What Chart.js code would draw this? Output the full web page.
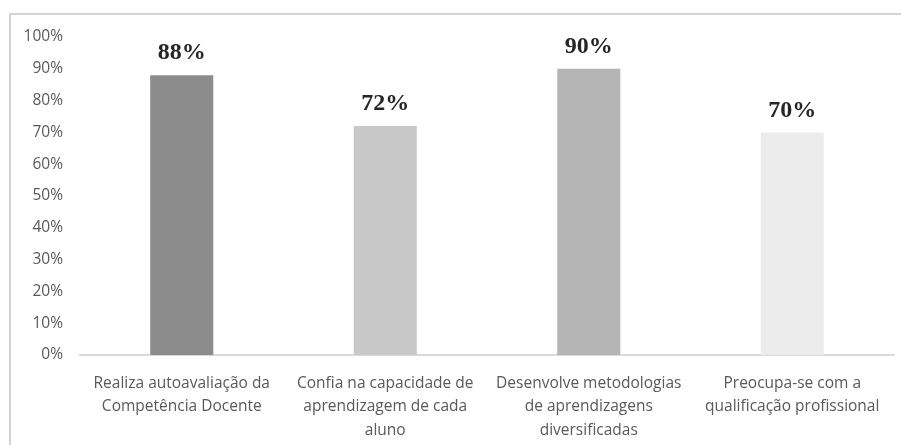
<!DOCTYPE html>
<html lang="pt">
<head>
    <meta charset="UTF-8">
    <title>Competência Docente</title>
    <script src="https://cdn.jsdelivr.net/npm/chart.js"></script>
    <style>
        html, body {
            margin: 0;
            padding: 0;
            background: #fff;
            overflow: hidden;
        }
        .frame {
            position: absolute;
            left: 9px;
            top: 13px;
            width: 910px;
            height: 460px;
            border: 2px solid #d4d4d4;
        }
        #chart {
            position: absolute;
            left: 0;
            top: 0;
        }
    </style>
</head>
<body>
    <div class="frame"></div>
    <canvas id="chart" width="901" height="445"></canvas>
    <script>
        // data
        const categories = [
            ['Realiza autoavaliação da', 'Competência Docente'],
            ['Confia na capacidade de', 'aprendizagem de cada', 'aluno'],
            ['Desenvolve metodologias', 'de aprendizagens', 'diversificadas'],
            ['Preocupa-se com a', 'qualificação profissional']
        ];
        const values = [88, 72, 90, 70];
        const barColors = ['#8c8c8c', '#c8c8c8', '#b5b5b5', '#ececec'];
        const yTicks = [0, 10, 20, 30, 40, 50, 60, 70, 80, 90, 100];

        const labelFont = 'bold 24px "Liberation Serif"';
        const tickFamily = '"Open Sans", sans-serif';

        // percent labels above each bar
        const barLabels = {
            id: 'barLabels',
            afterDatasetsDraw(chart) {
                const ctx = chart.ctx;
                const meta = chart.getDatasetMeta(0);
                ctx.save();
                ctx.font = labelFont + ', "Times New Roman", serif';
                ctx.fillStyle = '#262626';
                ctx.textAlign = 'center';
                ctx.textBaseline = 'middle';
                meta.data.forEach((bar, i) => {
                    ctx.fillText(values[i] + '%', bar.x, bar.y - 22);
                });
                ctx.restore();
            }
        };

        function draw() {
            new Chart(document.getElementById('chart'), {
                type: 'bar',
                data: {
                    labels: categories,
                    datasets: [{
                        data: values,
                        backgroundColor: barColors,
                        borderWidth: 0,
                        categoryPercentage: 1,
                        barPercentage: 0.31
                    }]
                },
                options: {
                    responsive: false,
                    animation: false,
                    layout: {
                        padding: { left: 0, right: 7, top: 37, bottom: 0 }
                    },
                    plugins: {
                        legend: { display: false },
                        tooltip: { enabled: false }
                    },
                    scales: {
                        x: {
                            grid: { display: false, drawTicks: false },
                            border: { display: true, color: '#d9d9d9', width: 2 },
                            ticks: {
                                color: '#595959',
                                font: { family: tickFamily, size: 15.5, lineHeight: 1.5 },
                                padding: 17,
                                maxRotation: 0,
                                autoSkip: false
                            },
                            afterFit(scale) { scale.height = 90; }
                        },
                        y: {
                            min: 0,
                            max: 100,
                            afterBuildTicks(scale) {
                                scale.ticks = yTicks.map(v => ({ value: v }));
                            },
                            grid: { display: false, drawTicks: false },
                            border: { display: false },
                            ticks: {
                                color: '#595959',
                                font: { family: tickFamily, size: 15.5 },
                                padding: 17,
                                callback: v => v + '%'
                            },
                            afterFit(scale) { scale.width = 80; }
                        }
                    }
                },
                plugins: [barLabels]
            });
        }

        Promise.all([
            document.fonts.load(labelFont),
            document.fonts.load('15px "Open Sans"')
        ]).then(draw, draw);
    </script>
</body>
</html>
